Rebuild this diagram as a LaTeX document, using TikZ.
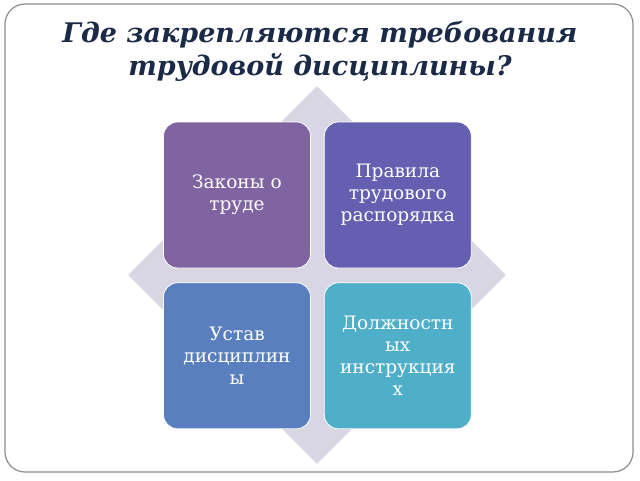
\documentclass[tikz,border=0pt]{standalone}
\usepackage{fontspec}
\setmainfont{DejaVu Serif}
\usetikzlibrary{shapes.geometric,positioning}
\definecolor{framegray}{HTML}{8C8C8C}
\definecolor{titlecol}{HTML}{1B2A47}
\definecolor{diacol}{HTML}{D9D6E4}
\definecolor{lawcol}{HTML}{8064A2}
\definecolor{rulecol}{HTML}{655FB1}
\definecolor{chartcol}{HTML}{5A7FBF}
\definecolor{jobcol}{HTML}{4FAFC8}

\begin{document}
\begin{tikzpicture}[
  x=1pt,y=-1pt,
  node distance=14pt and 13pt,
  mybox/.style={draw=white,line width=0.8pt,rounded corners=14pt,minimum width=147pt,minimum height=146pt,text width=136pt,align=center,text=white,inner sep=0pt,font=\fontsize{18.5}{22}\selectfont},
  mytitle/.style={align=center,text=titlecol,font=\fontsize{27}{33}\selectfont\bfseries\itshape}
]
\useasboundingbox (0,0) rectangle (640,480);
\draw[rounded corners=20pt,draw=framegray,line width=1.2pt] (5,4) rectangle (633,472);

\node[mytitle] (t) at (320,51) {Где закрепляются требования\\трудовой дисциплины?};
\node[diamond,fill=diacol,minimum size=378pt,inner sep=0pt] (d) at (317,275) {};

\node[mybox,fill=lawcol] (z) at (237,195) {Законы о\\труде};
\node[mybox,fill=rulecol,right=of z] (p) {Правила\\трудового\\распорядка};
\node[mybox,fill=chartcol,below=of z] (u) {Устав\\дисциплин\\ы};
\node[mybox,fill=jobcol,below=of p] (j) {Должностн\\ых\\инструкция\\х};

\end{tikzpicture}
\end{document}
